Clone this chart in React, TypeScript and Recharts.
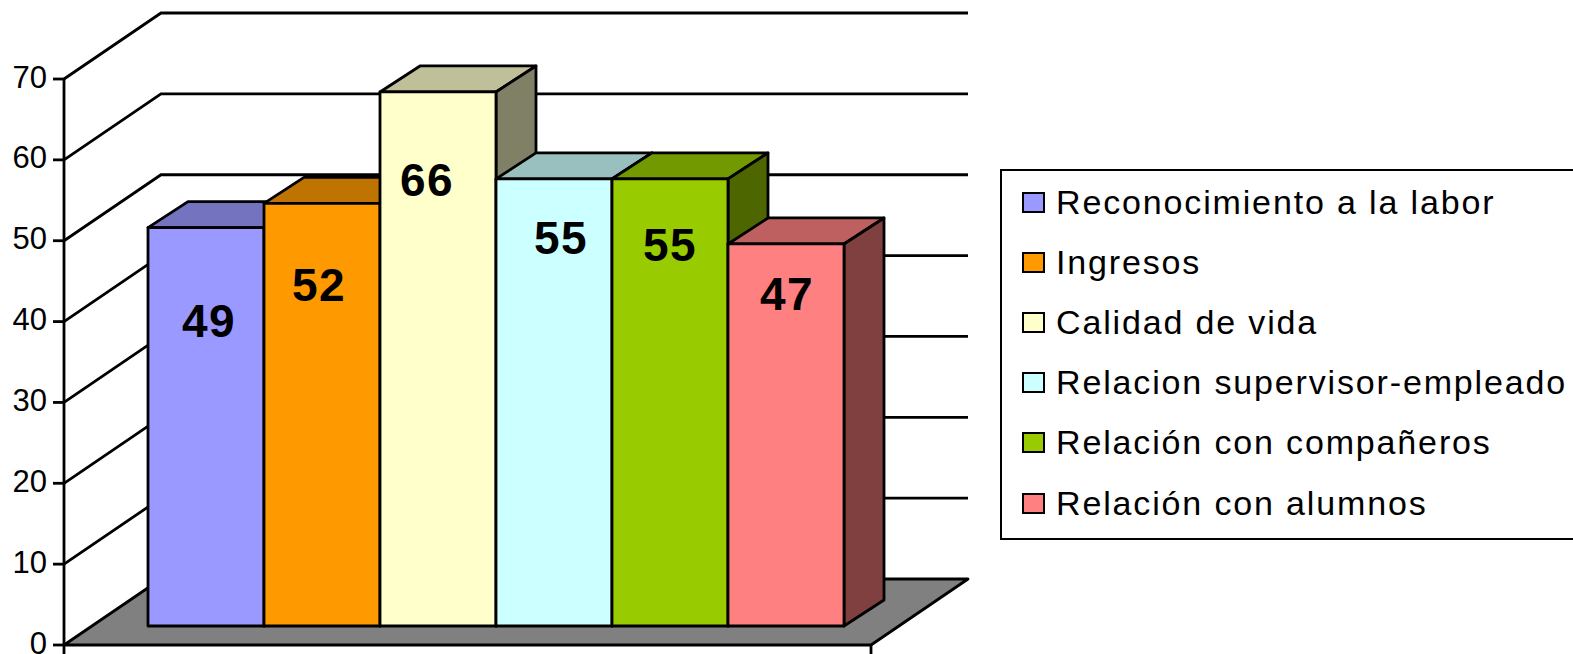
import React from 'react';
import { BarChart, Bar, XAxis, YAxis, Legend, LabelList, CartesianGrid } from 'recharts';

const seriesNames = [
  'Reconocimiento a la labor',
  'Ingresos',
  'Calidad de vida',
  'Relacion supervisor-empleado',
  'Relación con compañeros',
  'Relación con alumnos',
];
const seriesValues = [49, 52, 65.7, 55, 55, 47];
const seriesColors = ['#9999FF', '#FF9900', '#FFFFCC', '#CCFFFF', '#99CC00', '#FF8080'];
const axisTicks = [0, 10, 20, 30, 40, 50, 60, 70];

// the data labels sit at odd spots in the original, offset from the bar's top center
const labelDx = [3, -3, -11, 7, 0, 1];
const labelDy = [93, 82, 88, 59, 66, 50];

const row: Record<string, any> = { name: 'Satisfacción' };
seriesNames.forEach((n, i) => {
  row[n] = seriesValues[i];
});
const data = [row];

const FONT = '"Liberation Sans", Arial, sans-serif';
const LINE = 2.8;
const BAR_DEPTH_X = 40;
const BAR_DEPTH_Y = 26;
const WALL_DEPTH_X = 97;
const WALL_DEPTH_Y = 66;
const FRONT_X = 64;
const FRONT_RIGHT = 871;
const FRONT_ZERO = 645; // the axis plane sits lower than the bars' plane
const FRONT_RATIO = 0.9947; // and its scale is a touch shorter
const PLOT_BOTTOM = 626;

const frontY = (y: number) => FRONT_ZERO - (PLOT_BOTTOM - y) * FRONT_RATIO;

const shade = (hex: string, k: number) => {
  const n = parseInt(hex.slice(1), 16);
  const c = [(n >> 16) & 255, (n >> 8) & 255, n & 255].map((v) => Math.round(v * k));
  return `rgb(${c[0]},${c[1]},${c[2]})`;
};

const Bar3D = (props: any) => {
  const { x, y, width, height, fill } = props;
  const dx = BAR_DEPTH_X;
  const dy = BAR_DEPTH_Y;
  return (
    <g stroke="#000" strokeWidth={LINE} strokeLinejoin="round">
      <polygon
        points={`${x},${y} ${x + dx},${y - dy} ${x + width + dx},${y - dy} ${x + width},${y}`}
        fill={shade(fill, 0.75)}
      />
      <polygon
        points={`${x + width},${y} ${x + width + dx},${y - dy} ${x + width + dx},${y + height - dy} ${x + width},${y + height}`}
        fill={shade(fill, 0.5)}
      />
      <rect x={x} y={y} width={width} height={height} fill={fill} />
    </g>
  );
};

// back wall and floor come from the grid so they stay under the bars
const WallLine = (props: any) => {
  const fy = frontY(props.y1);
  const bx = FRONT_X + WALL_DEPTH_X;
  const by = fy - WALL_DEPTH_Y;
  if (Math.abs(props.y1 - PLOT_BOTTOM) < 1) {
    return (
      <polygon
        key={props.key}
        points={`${FRONT_X},${fy} ${FRONT_RIGHT},${fy} ${FRONT_RIGHT + WALL_DEPTH_X},${by} ${bx},${by}`}
        fill="#808080"
        stroke="#000"
        strokeWidth={LINE}
        strokeLinejoin="round"
      />
    );
  }
  return (
    <polyline
      key={props.key}
      points={`${FRONT_X},${fy} ${bx},${by} ${FRONT_RIGHT + WALL_DEPTH_X},${by}`}
      fill="none"
      stroke="#000"
      strokeWidth={LINE}
    />
  );
};

const AxisTick = (props: any) => {
  const { y, payload } = props;
  const fy = frontY(y);
  const isZero = payload.value === 0;
  return (
    <g>
      {isZero && (
        <>
          <line x1={FRONT_RIGHT} y1={fy} x2={FRONT_RIGHT} y2={fy + 9} stroke="#000" strokeWidth={LINE} />
          <line x1={FRONT_X} y1={fy} x2={FRONT_X} y2={fy + 9} stroke="#000" strokeWidth={LINE} />
        </>
      )}
      {!isZero && <line x1={FRONT_X} y1={fy} x2={FRONT_X} y2={fy + 81} stroke="#000" strokeWidth={LINE} />}
      <line x1={FRONT_X - 11} y1={fy} x2={FRONT_X} y2={fy} stroke="#000" strokeWidth={LINE} />
      <text x={47} y={fy - 2} textAnchor="end" dominantBaseline="central" fontFamily={FONT} fontSize={31} fill="#000">
        {payload.value}
      </text>
    </g>
  );
};

const BarValue = (index: number) => (props: any) => {
  const { x, y, width, value } = props;
  return (
    <text
      x={x + width / 2 + labelDx[index]}
      y={y + labelDy[index]}
      textAnchor="middle"
      dominantBaseline="central"
      fontFamily={FONT}
      fontWeight="bold"
      fontSize={46}
      letterSpacing={1.5}
      fill="#000"
    >
      {Math.round(value)}
    </text>
  );
};

const LegendBox = ({ payload }: any) => (
  <div
    style={{
      width: 640,
      height: 371,
      boxSizing: 'border-box',
      border: '2.8px solid #000',
      background: '#fff',
      paddingTop: 1,
      fontFamily: FONT,
      fontSize: 34,
      color: '#000',
    }}
  >
    {(payload || []).map((p: any) => (
      <div key={p.value} style={{ display: 'flex', alignItems: 'center', height: 60.2, letterSpacing: 1.85 }}>
        <span
          style={{
            width: 23,
            height: 21,
            boxSizing: 'border-box',
            marginLeft: 20,
            marginRight: 11,
            border: '2.8px solid #000',
            background: p.color,
          }}
        />
        <span style={{ whiteSpace: 'nowrap' }}>{p.value}</span>
      </div>
    ))}
  </div>
);

export default function App() {
  return (
    <div style={{ position: 'absolute', left: 0, top: 0, width: 1573, height: 654, overflow: 'hidden', background: '#fff' }}>
      <BarChart
        width={1573}
        height={654}
        data={data}
        margin={{ top: 57, right: 731, bottom: 28, left: 0 }}
        barCategoryGap={0}
        barGap={0}
      >
        <CartesianGrid vertical={false} horizontal={WallLine as any} horizontalValues={axisTicks} />
        <XAxis dataKey="name" hide />
        <YAxis
          width={148}
          domain={[0, 70]}
          ticks={axisTicks}
          interval={0}
          axisLine={false}
          tickLine={false}
          tick={AxisTick}
        />
        <Legend
          layout="vertical"
          align="center"
          verticalAlign="middle"
          itemSorter={null}
          content={LegendBox as any}
          wrapperStyle={{ position: 'absolute', left: 1000, top: 169, width: 640, height: 371, bottom: 'auto', right: 'auto' }}
        />
        {seriesNames.map((n, i) => (
          <Bar key={n} dataKey={n} name={n} fill={seriesColors[i]} shape={Bar3D} isAnimationActive={false}>
            <LabelList content={BarValue(i) as any} />
          </Bar>
        ))}
      </BarChart>
    </div>
  );
}
